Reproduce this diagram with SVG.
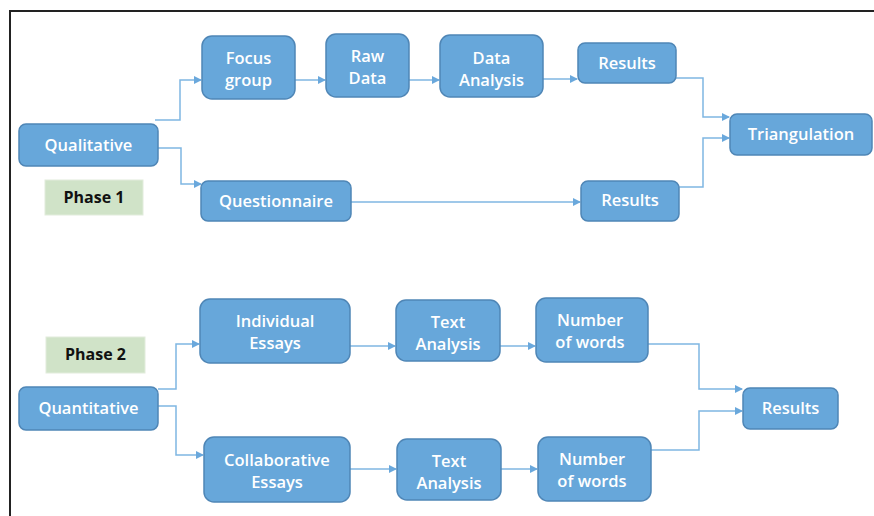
<svg xmlns="http://www.w3.org/2000/svg" width="874" height="516" viewBox="0 0 874 516">
<defs>
<marker id="ah" markerWidth="8" markerHeight="8" refX="7" refY="4" orient="auto" markerUnits="userSpaceOnUse">
<path d="M0,0 L8,4 L0,8 z" fill="#6aa8dc"/>
</marker>
<style>
.box{fill:#67a7da;stroke:#4f86b6;stroke-width:1.5}
.t{font-family:"Open Sans","Liberation Sans",sans-serif;font-size:16.5px;font-weight:600;fill:#ffffff;text-anchor:middle;dominant-baseline:central}
.ph{fill:#d0e3c8;stroke:#e2ecdc;stroke-width:1}
.pt{font-family:"Open Sans","Liberation Sans",sans-serif;font-size:16px;font-weight:700;fill:#111111;text-anchor:middle;dominant-baseline:central}
.c{fill:none;stroke:#7fb6e2;stroke-width:1.5;marker-end:url(#ah)}
</style>
</defs>
<rect width="874" height="516" fill="#ffffff"/>
<path d="M10,516 L10,11 L874,11" fill="none" stroke="#222222" stroke-width="2"/>

<g id="connectors">
<path class="c" d="M155,120 H180 V80 H201"/>
<path class="c" d="M158,148 H181 V184 H201"/>
<path class="c" d="M295,80 H325"/>
<path class="c" d="M409,80 H439"/>
<path class="c" d="M543,79 H577"/>
<path class="c" d="M676,78 H703 V117 H729"/>
<path class="c" d="M679,187 H703 V138 H729"/>
<path class="c" d="M351,202 H580"/>
<path class="c" d="M158,389 H176 V344 H199"/>
<path class="c" d="M158,406 H176 V455 H203"/>
<path class="c" d="M350,346 H395"/>
<path class="c" d="M350,469 H396"/>
<path class="c" d="M500,346 H535"/>
<path class="c" d="M501,469 H537"/>
<path class="c" d="M648,344 H699 V389 H742"/>
<path class="c" d="M651,450 H699 V411 H742"/>
</g>

<g id="qualitative"><rect class="box" x="19" y="124" width="139" height="42" rx="7"/><text class="t" x="88.5" y="144">Qualitative</text></g>
<g id="phase1"><rect class="ph" x="45" y="180" width="98" height="35"/><text class="pt" x="94" y="197">Phase 1</text></g>
<g id="focus-group"><rect class="box" x="202" y="36" width="93" height="63" rx="10"/><text class="t" x="248.5" y="57">Focus</text><text class="t" x="248.5" y="79">group</text></g>
<g id="raw-data"><rect class="box" x="326" y="34" width="83" height="63" rx="10"/><text class="t" x="367.5" y="55">Raw</text><text class="t" x="367.5" y="77">Data</text></g>
<g id="data-analysis"><rect class="box" x="440" y="35" width="103" height="62" rx="10"/><text class="t" x="491.5" y="57">Data</text><text class="t" x="491.5" y="79">Analysis</text></g>
<g id="results-1"><rect class="box" x="578" y="43" width="98" height="40" rx="7"/><text class="t" x="627" y="62">Results</text></g>
<g id="questionnaire"><rect class="box" x="201" y="181" width="150" height="40" rx="7"/><text class="t" x="276" y="200">Questionnaire</text></g>
<g id="results-2"><rect class="box" x="581" y="181" width="98" height="40" rx="7"/><text class="t" x="630" y="199">Results</text></g>
<g id="triangulation"><rect class="box" x="730" y="114" width="142" height="41" rx="7"/><text class="t" x="801" y="133">Triangulation</text></g>

<g id="phase2"><rect class="ph" x="46" y="337" width="99" height="36"/><text class="pt" x="95.5" y="354">Phase 2</text></g>
<g id="quantitative"><rect class="box" x="19" y="387" width="139" height="43" rx="7"/><text class="t" x="88.5" y="407">Quantitative</text></g>
<g id="individual-essays"><rect class="box" x="200" y="299" width="150" height="64" rx="10"/><text class="t" x="275" y="320">Individual</text><text class="t" x="275" y="342">Essays</text></g>
<g id="collaborative-essays"><rect class="box" x="204" y="437" width="146" height="65" rx="10"/><text class="t" x="277" y="459">Collaborative</text><text class="t" x="277" y="481">Essays</text></g>
<g id="text-analysis-1"><rect class="box" x="396" y="300" width="104" height="61" rx="10"/><text class="t" x="448" y="321">Text</text><text class="t" x="448" y="343">Analysis</text></g>
<g id="text-analysis-2"><rect class="box" x="397" y="439" width="104" height="61" rx="10"/><text class="t" x="449" y="460">Text</text><text class="t" x="449" y="482">Analysis</text></g>
<g id="number-words-1"><rect class="box" x="536" y="298" width="112" height="64" rx="10"/><text class="t" x="590" y="319">Number</text><text class="t" x="590" y="341">of words</text></g>
<g id="number-words-2"><rect class="box" x="538" y="437" width="113" height="64" rx="10"/><text class="t" x="592" y="458">Number</text><text class="t" x="592" y="480">of words</text></g>
<g id="results-3"><rect class="box" x="743" y="388" width="95" height="41" rx="7"/><text class="t" x="790.5" y="407">Results</text></g>
</svg>
